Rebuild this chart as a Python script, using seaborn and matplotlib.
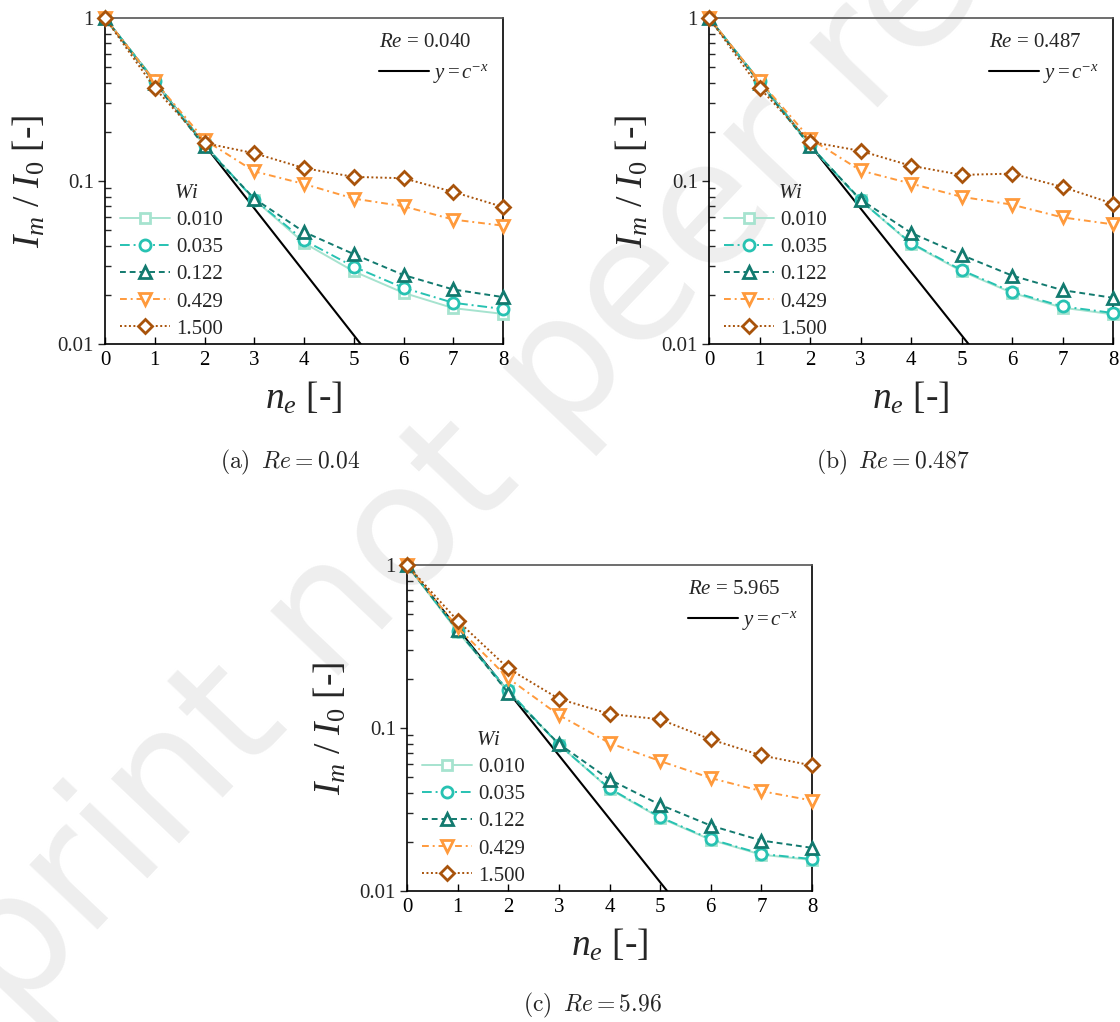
import matplotlib
matplotlib.use("Agg")
import numpy as np
import pandas as pd
import seaborn as sns
import matplotlib.pyplot as plt
from matplotlib.lines import Line2D
from matplotlib.ticker import FixedLocator, LogLocator, NullFormatter, FuncFormatter

# ---- data -------------------------------------------------------------
ne = [0, 1, 2, 3, 4, 5, 6, 7, 8]
wi_labels = ["0.010", "0.035", "0.122", "0.429", "1.500"]

# Re = 0.040
a_010 = [1, 0.410, 0.166, 0.077, 0.0417, 0.0279, 0.0206, 0.0166, 0.0153]
a_035 = [1, 0.413, 0.167, 0.077, 0.0433, 0.0298, 0.0221, 0.0179, 0.0164]
a_122 = [1, 0.400, 0.163, 0.078, 0.0487, 0.0356, 0.0265, 0.0216, 0.0194]
a_429 = [1, 0.409, 0.179, 0.1146, 0.0959, 0.0780, 0.0700, 0.0580, 0.0532]
a_150 = [1, 0.372, 0.171, 0.148, 0.120, 0.106, 0.104, 0.0857, 0.0693]

# Re = 0.487
b_010 = [1, 0.410, 0.165, 0.076, 0.0412, 0.0280, 0.0206, 0.0167, 0.0152]
b_035 = [1, 0.412, 0.166, 0.076, 0.0416, 0.0284, 0.0209, 0.0170, 0.0155]
b_122 = [1, 0.400, 0.164, 0.077, 0.0481, 0.0352, 0.0263, 0.0214, 0.0192]
b_429 = [1, 0.412, 0.182, 0.116, 0.0964, 0.0800, 0.0716, 0.0598, 0.0542]
b_150 = [1, 0.373, 0.174, 0.153, 0.124, 0.109, 0.111, 0.0919, 0.0726]

# Re = 5.965
c_010 = [1, 0.390, 0.168, 0.079, 0.0422, 0.0281, 0.0206, 0.0167, 0.0155]
c_035 = [1, 0.395, 0.170, 0.079, 0.0426, 0.0284, 0.0208, 0.0169, 0.0157]
c_122 = [1, 0.400, 0.164, 0.080, 0.0483, 0.0338, 0.0252, 0.0204, 0.0184]
c_429 = [1, 0.414, 0.202, 0.120, 0.0809, 0.0627, 0.0493, 0.0410, 0.0359]
c_150 = [1, 0.455, 0.232, 0.151, 0.122, 0.113, 0.0851, 0.0679, 0.0589]

re_labels = ["0.040", "0.487", "5.965"]
captions = ["(a)", "(b)", "(c)"]
caption_re = ["0.04", "0.487", "5.96"]
panels = [
    [a_010, a_035, a_122, a_429, a_150],
    [b_010, b_035, b_122, b_429, b_150],
    [c_010, c_035, c_122, c_429, c_150],
]

# reference decay y = c^-x
c_base = 2.45
ref_x = [0, 8]

# ---- style ------------------------------------------------------------
colors = ["#a6e3cf", "#27c2b2", "#127a6f", "#ff9a3c", "#a8530b"]
markers = ["s", "o", "^", "v", "D"]
msizes = [7, 8, 8, 8, 7.5]
styles = ["-", (0, (5, 2, 1, 2)), (0, (3, 2)), (0, (3.5, 2, 1, 2)), (0, (1, 1.3))]

sns.set_theme(style="ticks")
plt.rcParams.update({
    "font.family": ["Liberation Serif", "DejaVu Serif"],
    "mathtext.fontset": "custom",
    "mathtext.rm": "Liberation Serif",
    "mathtext.it": "Liberation Serif:italic",
    "mathtext.bf": "Liberation Serif:bold",
})

fig = plt.figure(figsize=(11.2, 10.22), dpi=100)
W, H = 1120, 1022
boxes = [(105, 18, 503, 344), (709, 18, 1113, 344), (407, 565, 812, 891)]

# faint watermark behind the panels
fig.text(0.519, 0.656, "Preprint not peer reviewed", rotation=46.5,
         fontsize=124, color="#eeeeee", family="DejaVu Sans",
         ha="center", va="center", zorder=-10)

for k, (x0, y0, x1, y1) in enumerate(boxes):
    ax = fig.add_axes([x0 / W, 1 - y1 / H, (x1 - x0) / W, (y1 - y0) / H])
    ax.set_facecolor("none")
    ax.set_yscale("log")

    series = panels[k]
    for i, vals in enumerate(series):
        df = pd.DataFrame({"ne": ne, "I": vals})
        sns.lineplot(data=df, x="ne", y="I", ax=ax, color=colors[i],
                     linestyle=styles[i], linewidth=1.4, marker=markers[i],
                     markersize=msizes[i], markerfacecolor="white",
                     markeredgecolor=colors[i], markeredgewidth=2.0,
                     clip_on=False, zorder=3 + i)

    ref_y = [c_base ** (-v) for v in ref_x]
    ax.plot(ref_x, ref_y, color="black", lw=1.5, zorder=2)

    ax.set_xlim(0, 8)
    ax.set_ylim(0.01, 1)
    ax.xaxis.set_major_locator(FixedLocator(ne))
    ax.yaxis.set_major_locator(FixedLocator([0.01, 0.1, 1]))
    ax.yaxis.set_major_formatter(FuncFormatter(lambda v, p: f"{v:g}"))
    ax.yaxis.set_minor_locator(LogLocator(base=10, subs=np.arange(2, 10)))
    ax.yaxis.set_minor_formatter(NullFormatter())
    ax.tick_params(axis="x", direction="in", length=5, width=1, labelsize=15, pad=5, colors="black")
    ax.tick_params(axis="y", which="major", direction="out", length=5, width=1, labelsize=15, pad=3)
    ax.tick_params(axis="y", which="minor", direction="in", length=4, width=1)
    for s in ["left", "bottom", "right"]:
        ax.spines[s].set_color("black")
        ax.spines[s].set_linewidth(1.2)
    ax.spines["top"].set_color("#555555")
    ax.spines["top"].set_linewidth(1.2)

    ax.set_xlabel(r"$n_e$ [-]", fontsize=27)
    ax.set_ylabel(r"$I_m\ /\ I_0$ [-]", fontsize=27)
    ax.xaxis.set_label_coords(0.5, -0.11)
    ax.yaxis.set_label_coords(-0.145, 0.5)

    # Wi legend
    handles = [Line2D([], [], color=colors[i], linestyle=styles[i], lw=1.4,
                      marker=markers[i], markersize=msizes[i],
                      markerfacecolor="white", markeredgecolor=colors[i],
                      markeredgewidth=2.0) for i in range(5)]
    leg = ax.legend(handles, wi_labels, title=r"$\quad\quad Wi$", loc="upper left",
                    bbox_to_anchor=(0.0, 0.535), frameon=False, fontsize=15,
                    title_fontsize=15, handlelength=2.4, handletextpad=0.3,
                    labelspacing=0.36, borderaxespad=0.3)
    ax.add_artist(leg)

    # Re legend
    rh = [Line2D([], [], color="black", lw=1.5)]
    leg2 = ax.legend(rh, [r"$y = c^{-x}$"], title=rf"$Re$ = {re_labels[k]}",
                     loc="upper right", frameon=False, fontsize=15,
                     title_fontsize=15, handlelength=2.4, handletextpad=0.2,
                     borderaxespad=0.3, alignment="left")

# panel captions
cap_pos = [(0.259, 1 - 462 / H), (0.797, 1 - 462 / H), (0.529, 1 - 1005 / H)]
for k, (cx, cy) in enumerate(cap_pos):
    fig.text(cx, cy, rf"$\mathrm{{{captions[k]}}}\;\; Re = {caption_re[k]}$",
             fontsize=17, math_fontfamily="cm", ha="center", va="center")

fig.savefig("out.png", dpi=100)
